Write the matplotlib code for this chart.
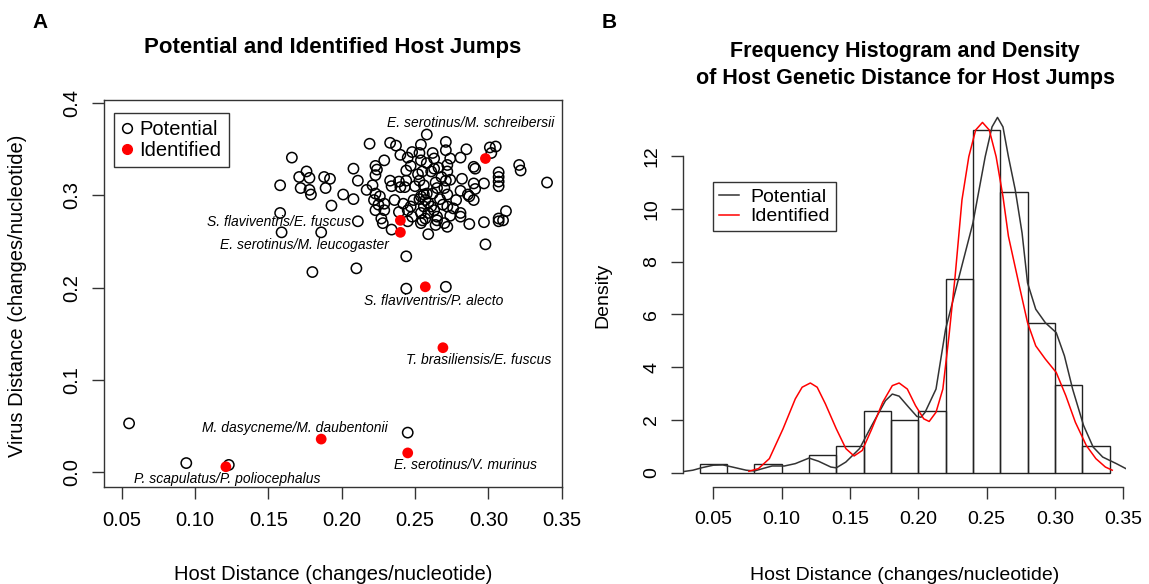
import matplotlib
matplotlib.use("Agg")
import matplotlib.pyplot as plt
from matplotlib.lines import Line2D
import numpy as np

plt.rcParams['font.family'] = ['Liberation Sans', 'DejaVu Sans']

# ---- panel A: potential host jumps (open circles)
pot_x = [0.258, 0.219, 0.233, 0.237, 0.254, 0.271, 0.271, 0.262, 0.248, 0.240,
         0.245, 0.253, 0.254, 0.258, 0.229, 0.223, 0.285, 0.301, 0.305, 0.302,
         0.281, 0.274, 0.290, 0.291, 0.321, 0.322, 0.166, 0.208, 0.224, 0.272,
         0.272, 0.263, 0.255, 0.261, 0.244, 0.223, 0.282, 0.307, 0.307, 0.307,
         0.307, 0.340, 0.158, 0.176, 0.171, 0.178, 0.172, 0.178, 0.179, 0.188,
         0.192, 0.189, 0.201, 0.208, 0.211, 0.221, 0.217, 0.233, 0.239, 0.234,
         0.240, 0.244, 0.243, 0.253, 0.256, 0.250, 0.271, 0.274, 0.265, 0.272,
         0.281, 0.286, 0.291, 0.290, 0.290, 0.287, 0.297, 0.223, 0.226, 0.222,
         0.225, 0.229, 0.223, 0.229, 0.236, 0.242, 0.247, 0.245, 0.249, 0.253,
         0.257, 0.256, 0.261, 0.263, 0.259, 0.265, 0.254, 0.262, 0.258, 0.254,
         0.272, 0.281, 0.281, 0.312, 0.307, 0.310, 0.307, 0.297, 0.287, 0.257,
         0.255, 0.265, 0.270, 0.272, 0.227, 0.228, 0.234, 0.211, 0.193, 0.158,
         0.159, 0.186, 0.259, 0.245, 0.298, 0.244, 0.210, 0.180, 0.239,
         0.055, 0.094, 0.123, 0.245, 0.244, 0.271,
         0.247, 0.252, 0.256, 0.248, 0.254, 0.259, 0.263, 0.266, 0.268, 0.264,
         0.270, 0.267, 0.269, 0.276, 0.274, 0.264, 0.278]
pot_y = [0.366, 0.356, 0.357, 0.354, 0.355, 0.358, 0.349, 0.346, 0.347, 0.344,
         0.341, 0.346, 0.338, 0.335, 0.338, 0.332, 0.350, 0.352, 0.353, 0.346,
         0.341, 0.340, 0.331, 0.329, 0.333, 0.327, 0.341, 0.329, 0.328, 0.333,
         0.326, 0.329, 0.326, 0.326, 0.327, 0.322, 0.318, 0.325, 0.320, 0.315,
         0.310, 0.314, 0.311, 0.326, 0.320, 0.319, 0.308, 0.306, 0.301, 0.320,
         0.318, 0.308, 0.301, 0.296, 0.316, 0.311, 0.306, 0.316, 0.315, 0.310,
         0.309, 0.316, 0.309, 0.316, 0.311, 0.310, 0.316, 0.317, 0.308, 0.301,
         0.305, 0.301, 0.307, 0.313, 0.295, 0.299, 0.313, 0.302, 0.299, 0.295,
         0.290, 0.291, 0.284, 0.284, 0.295, 0.291, 0.288, 0.284, 0.295, 0.296,
         0.295, 0.288, 0.288, 0.284, 0.281, 0.277, 0.281, 0.302, 0.302, 0.299,
         0.288, 0.281, 0.277, 0.283, 0.275, 0.273, 0.272, 0.271, 0.269, 0.275,
         0.273, 0.273, 0.270, 0.266, 0.275, 0.270, 0.263, 0.272, 0.289, 0.281,
         0.260, 0.260, 0.258, 0.272, 0.247, 0.234, 0.221, 0.217, 0.282,
         0.053, 0.010, 0.008, 0.043, 0.199, 0.201,
         0.332, 0.323, 0.301, 0.277, 0.270, 0.292, 0.340, 0.330, 0.320, 0.314,
         0.308, 0.296, 0.290, 0.286, 0.278, 0.268, 0.295]

# identified host jumps (red dots) and their labels
ident_x = [0.121, 0.186, 0.245, 0.269, 0.257, 0.298, 0.240, 0.240]
ident_y = [0.006, 0.036, 0.021, 0.135, 0.201, 0.340, 0.273, 0.260]
labels = ["P. scapulatus/P. poliocephalus", "M. dasycneme/M. daubentonii",
          "E. serotinus/V. murinus", "T. brasiliensis/E. fuscus",
          "S. flaviventris/P. alecto", "E. serotinus/M. schreibersii",
          "S. flaviventris/E. fuscus", "E. serotinus/M. leucogaster"]
label_x = [0.122, 0.168, 0.2845, 0.2936, 0.263, 0.288, 0.1575, 0.1745]
label_y = [-0.0076, 0.0477, 0.0079, 0.1217, 0.186, 0.3788, 0.2716, 0.2463]

# ---- panel B: histogram (density) and kernel density curves
bin_edges = [0.04, 0.06, 0.08, 0.10, 0.12, 0.14, 0.16, 0.18, 0.20, 0.22,
             0.24, 0.26, 0.28, 0.30, 0.32, 0.34]
bin_density = [0.333, 0.0, 0.333, 0.0, 0.667, 1.0, 2.333, 2.0, 2.333, 7.333,
               13.0, 10.667, 5.667, 3.333, 1.0]

pot_dens_x = [0.019, 0.027, 0.035, 0.042, 0.050, 0.057, 0.064, 0.074, 0.080, 0.086,
              0.093, 0.102, 0.110, 0.120, 0.127, 0.136, 0.140, 0.147, 0.157, 0.166,
              0.176, 0.181, 0.186, 0.193, 0.199, 0.202, 0.205, 0.213, 0.220, 0.230,
              0.240, 0.249, 0.254, 0.258, 0.262, 0.266, 0.271, 0.276, 0.280, 0.286,
              0.293, 0.301, 0.307, 0.313, 0.321, 0.328, 0.335, 0.345, 0.352]
pot_dens_y = [0.0, 0.03, 0.09, 0.19, 0.28, 0.29, 0.21, 0.09, 0.06, 0.15,
              0.25, 0.25, 0.34, 0.55, 0.43, 0.21, 0.18, 0.40, 0.91, 1.79,
              2.73, 2.98, 2.90, 2.48, 2.13, 2.10, 2.29, 3.17, 5.44, 7.46,
              9.47, 11.99, 13.12, 13.48, 13.12, 11.99, 10.73, 9.09, 7.20, 6.20,
              5.69, 5.31, 4.43, 3.17, 1.79, 0.97, 0.59, 0.34, 0.15]

id_dens_x = [0.076, 0.083, 0.091, 0.101, 0.110, 0.115, 0.121, 0.126, 0.132, 0.140,
             0.147, 0.153, 0.159, 0.166, 0.174, 0.181, 0.186, 0.192, 0.198, 0.204,
             0.208, 0.213, 0.218, 0.2225, 0.227, 0.232, 0.237, 0.242, 0.247, 0.252,
             0.257, 0.262, 0.266, 0.274, 0.280, 0.286, 0.293, 0.301, 0.308, 0.315,
             0.323, 0.330, 0.337, 0.342]
id_dens_y = [0.05, 0.15, 0.53, 1.66, 2.80, 3.24, 3.40, 3.24, 2.61, 1.66,
             0.91, 0.63, 0.84, 1.66, 2.67, 3.30, 3.40, 3.17, 2.54, 2.04,
             1.94, 2.29, 3.17, 5.19, 7.46, 10.35, 11.99, 13.0, 13.29, 13.0,
             11.99, 10.48, 8.97, 7.08, 5.69, 4.81, 4.31, 3.80, 2.92, 1.91,
             1.03, 0.53, 0.21, 0.09]

W, H = 1149, 584
fig = plt.figure(figsize=(W / 100, H / 100), dpi=100)
axc = '#333333'
fs = 14.5

# ---------- A
ax1 = fig.add_axes([104.3 / W, 1 - 486.7 / H, (561.7 - 104.3) / W, (486.7 - 100) / H])
ax1.scatter(pot_x, pot_y, s=55, facecolors='none', edgecolors='black', linewidths=1.1, zorder=2)
ax1.scatter(ident_x, ident_y, s=60, color='red', edgecolors='none', zorder=3)
for lab, lx, ly in zip(labels, label_x, label_y):
    ax1.text(lx, ly, lab, ha='center', va='center', fontsize=10, style='italic')
ax1.set_xlim(0.0381, 0.35)
ax1.set_ylim(-0.0156, 0.4034)
xt = [0.05, 0.10, 0.15, 0.20, 0.25, 0.30, 0.35]
yt = [0.0, 0.1, 0.2, 0.3, 0.4]
ax1.set_xticks(xt)
ax1.set_xticklabels([f'{v:.2f}' for v in xt])
ax1.set_yticks(yt)
ax1.set_yticklabels([f'{v:.1f}' for v in yt], rotation=90, va='center')
for sp in ax1.spines.values():
    sp.set_color(axc)
    sp.set_linewidth(1.0)
ax1.tick_params(direction='out', length=8.5, width=1, color=axc, labelsize=fs, pad=9)
ax1.tick_params(axis='y', pad=8)
leg1 = ax1.legend(handles=[
    Line2D([], [], ls='none', marker='o', mfc='none', mec='black', ms=7, mew=1.1),
    Line2D([], [], ls='none', marker='o', mfc='red', mec='red', ms=7)],
    labels=['Potential', 'Identified'], loc='upper left', bbox_to_anchor=(0.022, 0.967),
    fontsize=fs, frameon=True, fancybox=False, framealpha=1, edgecolor=axc,
    handlelength=0.6, handletextpad=0.3, borderpad=0.35, labelspacing=0.12, borderaxespad=0)
leg1.get_frame().set_linewidth(1.0)

fig.text(333 / W, 1 - 48 / H, 'Potential and Identified Host Jumps', ha='center', va='center',
         fontsize=16, fontweight='bold')
fig.text(40 / W, 1 - 22 / H, 'A', ha='center', va='center', fontsize=15, fontweight='bold')
fig.text(18 / W, 1 - 296 / H, 'Virus Distance (changes/nucleotide)', rotation=90,
         ha='center', va='center', fontsize=fs)
fig.text(333 / W, 1 - 575 / H, 'Host Distance (changes/nucleotide)', ha='center', va='center',
         fontsize=fs)

# ---------- B
fs2 = 14
ax2 = fig.add_axes([683.3 / W, 1 - 486.7 / H, 442.6 / W, (486.7 - 105.4) / H])
ax2.bar(bin_edges[:-1], bin_density, width=np.diff(bin_edges), align='edge',
        fill=False, edgecolor='#222222', linewidth=1.0)
ax2.plot(pot_dens_x, pot_dens_y, color='#333333', lw=1.1)
ax2.plot(id_dens_x, id_dens_y, color='red', lw=1.1)
ax2.set_xlim(0.028, 0.352)
ax2.set_ylim(-0.536, 13.936)
ax2.spines['top'].set_visible(False)
ax2.spines['right'].set_visible(False)
ax2.spines['left'].set_bounds(0, 12)
ax2.spines['bottom'].set_bounds(0.05, 0.35)
for sp in ('left', 'bottom'):
    ax2.spines[sp].set_color(axc)
    ax2.spines[sp].set_linewidth(1.0)
yt2 = [0, 2, 4, 6, 8, 10, 12]
ax2.set_xticks(xt)
ax2.set_xticklabels([f'{v:.2f}' for v in xt])
ax2.set_yticks(yt2)
ax2.set_yticklabels([str(v) for v in yt2], rotation=90, va='center')
ax2.tick_params(direction='out', length=8.5, width=1, color=axc, labelsize=fs2, pad=9)
ax2.tick_params(axis='y', pad=8)
leg2 = ax2.legend(handles=[Line2D([], [], color='#333333', lw=1.1),
                           Line2D([], [], color='red', lw=1.1)],
                  labels=['Potential', 'Identified'], loc='upper left',
                  bbox_to_anchor=(0.068, 0.798), fontsize=fs2, frameon=True, fancybox=False,
                  framealpha=1, edgecolor=axc, handlelength=1.0, handletextpad=0.6,
                  borderpad=0.3, labelspacing=0.1, borderaxespad=0)
leg2.get_frame().set_linewidth(1.0)

fig.text(905 / W, 1 - 65 / H, 'Frequency Histogram and Density\nof Host Genetic Distance for Host Jumps',
         ha='center', va='center', fontsize=15.5, fontweight='bold', linespacing=1.35)
fig.text(609 / W, 1 - 22 / H, 'B', ha='center', va='center', fontsize=15, fontweight='bold')
fig.text(603 / W, 1 - 295 / H, 'Density', rotation=90, ha='center', va='center', fontsize=fs2)
fig.text(905 / W, 1 - 575 / H, 'Host Distance (changes/nucleotide)', ha='center', va='center',
         fontsize=fs2)

fig.savefig('out.png', dpi=100)
